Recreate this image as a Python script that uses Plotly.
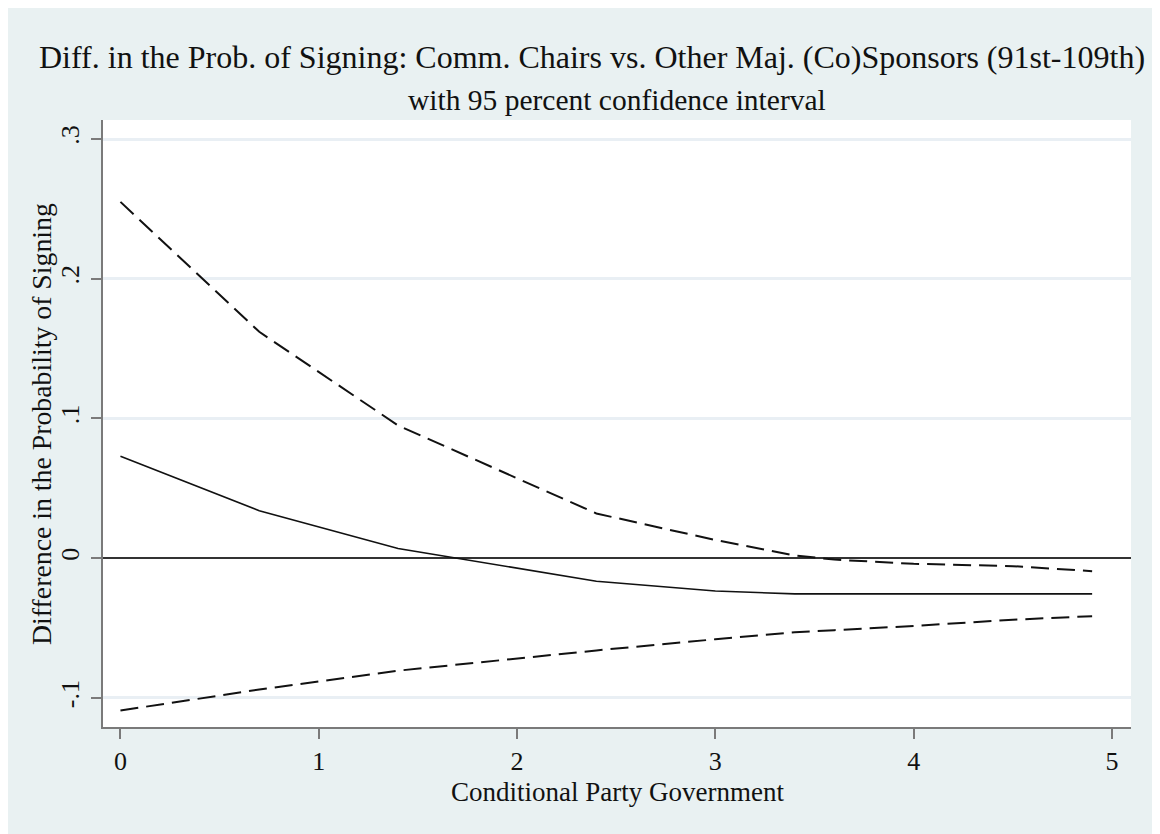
import plotly.graph_objects as go

# Data
cpg = [0.0, 0.7, 1.4, 2.4, 3.0, 3.4, 3.6, 4.0, 4.5, 4.9]
diff_est = [0.073, 0.034, 0.007, -0.0165, -0.0235, -0.0255, -0.0255, -0.0255, -0.0255, -0.0255]
ci_upper = [0.255, 0.162, 0.095, 0.032, 0.013, 0.002, -0.001, -0.004, -0.0057, -0.0093]
ci_lower = [-0.109, -0.094, -0.0805, -0.066, -0.058, -0.053, -0.0515, -0.0485, -0.044, -0.0415]

x_ticks = [0, 1, 2, 3, 4, 5]
x_tick_labels = ["0", "1", "2", "3", "4", "5"]
y_ticks = [-0.1, 0, 0.1, 0.2, 0.3]
y_tick_labels = ["-.1", "0", ".1", ".2", ".3"]

title_text = "Diff. in the Prob. of Signing: Comm. Chairs vs. Other Maj. (Co)Sponsors (91st-109th)"
subtitle_text = "with 95 percent confidence interval"
x_title = "Conditional Party Government"
y_title = "Difference in the Probability of Signing"

W, H = 1160, 834
OFF = 8  # page body margin
# plot area in screen pixels
L, R, T, B = 103, 1131, 120, 727
FONT = "Liberation Serif, Times New Roman, serif"
BG = "#e9f1f2"

def px(xp):
    return (xp - L) / (R - L)

def py(yp):
    return (B - yp) / (B - T)

fig = go.Figure()
fig.add_trace(go.Scatter(x=cpg, y=ci_upper, mode="lines",
                         line=dict(color="#111111", width=2, dash="18px,8px"),
                         showlegend=False))
fig.add_trace(go.Scatter(x=cpg, y=ci_lower, mode="lines",
                         line=dict(color="#111111", width=2, dash="18px,8px"),
                         showlegend=False))
fig.add_trace(go.Scatter(x=cpg, y=diff_est, mode="lines",
                         line=dict(color="#111111", width=1.6),
                         showlegend=False))

fig.update_layout(
    width=W, height=H,
    margin=dict(l=L - OFF, r=W - (R - OFF), t=T - OFF, b=H - (B - OFF), pad=0),
    paper_bgcolor=BG,
    plot_bgcolor="white",
    font=dict(family=FONT, color="#111111", size=26),
    showlegend=False,
    xaxis=dict(
        range=[-0.088, 5.096],
        tickvals=x_ticks, ticktext=x_tick_labels,
        showgrid=False, zeroline=False,
        showline=True, linecolor="#7a7a7a", linewidth=2,
        ticks="outside", ticklen=10, tickwidth=2, tickcolor="#7a7a7a",
        tickfont=dict(family=FONT, size=26, color="#111111"),
    ),
    yaxis=dict(
        range=[-0.1208, 0.3136],
        tickvals=y_ticks, ticktext=y_tick_labels,
        tickangle=-90,
        ticklabelstandoff=2,
        showgrid=True, gridcolor="#e9eff4", gridwidth=3,
        zeroline=True, zerolinecolor="#333333", zerolinewidth=2,
        showline=True, linecolor="#7a7a7a", linewidth=2,
        ticks="outside", ticklen=10, tickwidth=2, tickcolor="#7a7a7a",
        tickfont=dict(family=FONT, size=26, color="#111111"),
    ),
)

annotations = [
    dict(text=title_text, x=px(592), y=py(57), xref="paper", yref="paper",
         xanchor="center", yanchor="middle", showarrow=False,
         font=dict(family=FONT, size=32, color="#111111")),
    dict(text=subtitle_text, x=px(617), y=py(100), xref="paper", yref="paper",
         xanchor="center", yanchor="middle", showarrow=False,
         font=dict(family=FONT, size=29.5, color="#111111")),
    dict(text=x_title, x=px(617), y=py(792), xref="paper", yref="paper",
         xanchor="center", yanchor="middle", showarrow=False,
         font=dict(family=FONT, size=27, color="#111111")),
    dict(text=y_title, x=px(41), y=py(424), xref="paper", yref="paper",
         xanchor="center", yanchor="middle", showarrow=False, textangle=-90,
         font=dict(family=FONT, size=27.8, color="#111111")),
]
fig.update_layout(annotations=annotations)

fig.write_html("out.html")
